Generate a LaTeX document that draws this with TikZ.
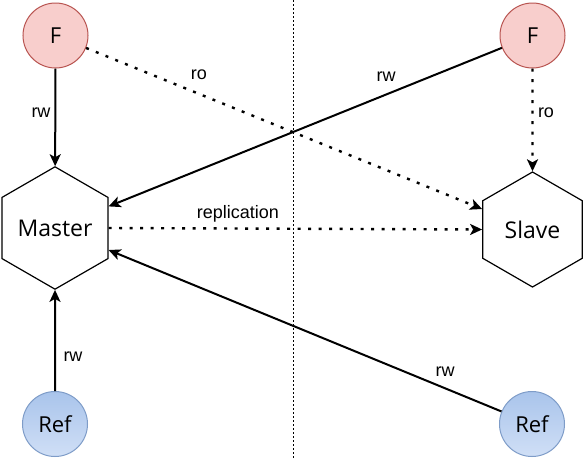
\documentclass[tikz,border=0pt]{standalone}
\usepackage{fontspec}
\setmainfont{Open Sans}
\newfontfamily\labelfont{Liberation Sans}
\usetikzlibrary{shapes.geometric,arrows.meta}
\definecolor{fred}{HTML}{F8CECC}
\definecolor{fredb}{HTML}{B85450}
\definecolor{refb}{HTML}{7E9CC8}
\definecolor{reftop}{HTML}{A9C4EB}
\definecolor{refbot}{HTML}{D0DFF6}
\tikzset{
  fnode/.style={circle,draw=fredb,fill=fred,line width=1pt,minimum size=65pt,inner sep=0pt,font=\fontsize{22}{26}\selectfont},
  refnode/.style={circle,draw=refb,top color=reftop,bottom color=refbot,line width=1pt,minimum size=65pt,inner sep=0pt,font=\fontsize{22}{26}\selectfont},
  hexnode/.style={regular polygon,regular polygon sides=6,shape border rotate=30,draw=black,line width=1.2pt,fill=white,minimum size=115pt,inner sep=0pt,font=\fontsize{23}{27}\selectfont},
  solidarr/.style={line width=2pt,-{Stealth[length=12pt,width=11pt,inset=3pt]}},
  dotarr/.style={line width=2.4pt,dash pattern=on 3pt off 7.5pt,-{Stealth[length=12pt,width=11pt,inset=3pt]}},
  lbl/.style={font=\labelfont\fontsize{18}{21}\selectfont,inner sep=0pt},
  sepline/.style={line width=0.8pt,dash pattern=on 2pt off 2pt}
}
\begin{document}
\begin{tikzpicture}[x=1pt,y=-1pt]
\useasboundingbox[fill=white] (0,0) rectangle (587,459);
\coordinate (septop) at (293,0);
\coordinate (sepbot) at (293,459);
\draw[sepline] (septop) -- (sepbot);

\node[fnode] (FL) at (55.5,35.5) {F};
\node[fnode] (FR) at (532.5,35.5) {F};
\node[hexnode] (M) at (55,228) {Master};
\node[hexnode] (S) at (532.5,229.5) {Slave};
\node[refnode] (RL) at (55,424) {Ref};
\node[refnode] (RR) at (532,424) {Ref};

\draw[solidarr] (FL) -- (M);
\draw[dotarr] (FL) -- (S);
\draw[solidarr] (FR) -- (M);
\draw[dotarr] (FR) -- (S);
\draw[dotarr] (M.east) -- (S.west);
\draw[solidarr] (RL) -- (M);
\draw[solidarr] (RR) -- (M);

\node[lbl] (l1) at (41,113) {rw};
\node[lbl] (l2) at (199,75) {ro};
\node[lbl] (l3) at (386,77) {rw};
\node[lbl] (l4) at (546,113) {ro};
\node[lbl] (l5) at (238,214) {replication};
\node[lbl] (l6) at (73,357) {rw};
\node[lbl] (l7) at (445,372) {rw};
\end{tikzpicture}
\end{document}
